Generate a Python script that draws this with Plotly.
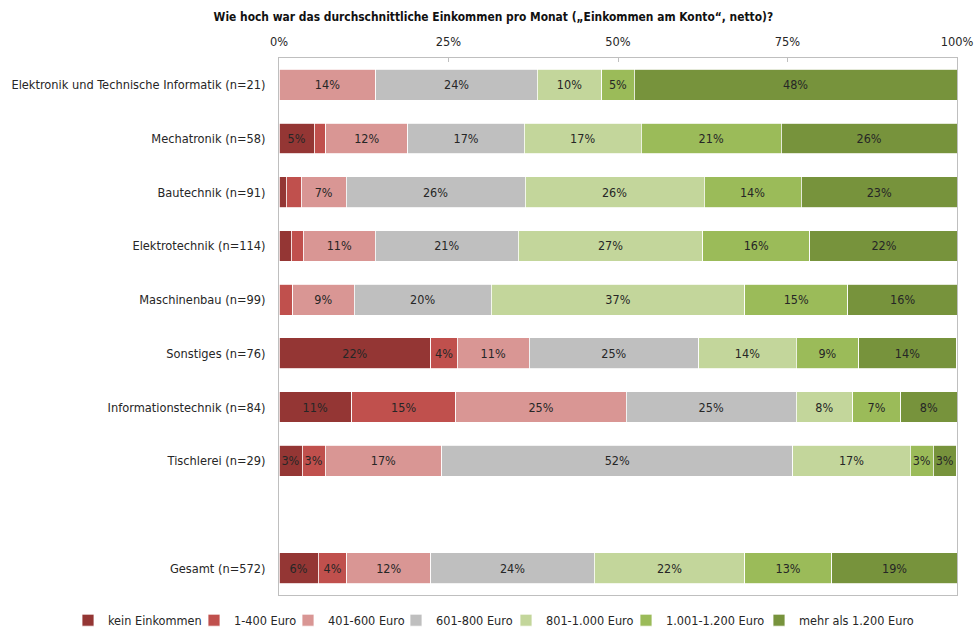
import plotly.graph_objects as go

# Study programmes (rows, top to bottom); the total row is set apart by a blank slot
categories = [
    "Elektronik und Technische Informatik (n=21)",
    "Mechatronik (n=58)",
    "Bautechnik (n=91)",
    "Elektrotechnik (n=114)",
    "Maschinenbau (n=99)",
    "Sonstiges (n=76)",
    "Informationstechnik (n=84)",
    "Tischlerei (n=29)",
    "Gesamt (n=572)",
]

# Income bands
bands = [
    "kein Einkommen",
    "1-400 Euro",
    "401-600 Euro",
    "601-800 Euro",
    "801-1.000 Euro",
    "1.001-1.200 Euro",
    "mehr als 1.200 Euro",
]

# Share of respondents per band (percent), same row order as categories
kein_einkommen = [0.0, 5.2, 1.1, 1.8, 0.0, 22.4, 10.7, 3.4, 5.8]
euro_1_400 = [0.0, 1.7, 2.2, 1.8, 2.0, 3.9, 15.4, 3.4, 4.2]
euro_401_600 = [14.3, 12.1, 6.6, 10.6, 9.1, 10.6, 25.1, 17.2, 12.4]
euro_601_800 = [23.8, 17.2, 26.4, 21.1, 20.2, 25.0, 25.1, 51.8, 24.1]
euro_801_1000 = [9.5, 17.2, 26.4, 27.2, 37.4, 14.4, 8.3, 17.3, 22.2]
euro_1001_1200 = [4.8, 20.7, 14.3, 15.8, 15.2, 9.2, 7.1, 3.4, 12.8]
mehr_1200 = [47.6, 25.9, 23.1, 21.9, 16.2, 14.4, 8.3, 3.4, 18.6]

# Axis ticks
tick_values = [0, 25, 50, 75, 100]
tick_labels = ["0%", "25%", "50%", "75%", "100%"]

series = [kein_einkommen, euro_1_400, euro_401_600, euro_601_800,
          euro_801_1000, euro_1001_1200, mehr_1200]
colors = ["#943634", "#C0504D", "#D99694", "#BFBFBF",
          "#C3D69B", "#9BBB59", "#77933C"]

# Left edge (px) of each legend entry along the bottom row
legend_left_px = [68, 194, 288, 396, 506, 626, 759]

# Row positions: programmes 0..7, one empty slot, then the total
positions = list(range(len(categories) - 1)) + [len(categories)]

FONT = "DejaVu Sans Condensed, DejaVu Sans, sans-serif"
ML, MR, MT, MB = 279, 20, 58, 34
W, H = 977, 629
plot_w = W - ML - MR
plot_h = H - MT - MB

fig = go.Figure()
legends = {}
for i, (name, vals, col) in enumerate(zip(bands, series, colors)):
    labels = [f"{v:.0f}%" if v >= 2.5 else "" for v in vals]
    legend_id = "legend" if i == 0 else f"legend{i + 1}"
    fig.add_trace(go.Bar(
        y=positions,
        x=vals,
        name=name,
        orientation="h",
        marker=dict(color=col, line=dict(color="white", width=0.8)),
        text=labels,
        textposition="inside",
        insidetextanchor="middle",
        textangle=0,
        textfont=dict(family=FONT, size=12.5, color="#262626"),
        width=0.575,
        hoverinfo="x+name",
        legend=legend_id,
    ))
    # one single-entry legend per band, laid out in a row under the plot
    legends[legend_id] = dict(
        orientation="h",
        x=(legend_left_px[i] - ML) / plot_w, xref="paper", xanchor="left",
        y=-10.5 / plot_h, yref="paper", yanchor="top",
        font=dict(family=FONT, size=12.6, color="#262626"),
        itemwidth=30,
        bgcolor="rgba(0,0,0,0)",
    )

fig.update_layout(
    barmode="stack",
    width=W,
    height=H,
    paper_bgcolor="white",
    plot_bgcolor="white",
    margin=dict(l=ML, r=MR, t=MT, b=MB, autoexpand=False),
    font=dict(family=FONT, size=12.7, color="#262626"),
    uniformtext=dict(minsize=12.5, mode="show"),
    title=dict(
        text="<b>Wie hoch war das durchschnittliche Einkommen pro Monat (\u201eEinkommen am Konto\u201c, netto)?</b>",
        x=0.505, xref="container", xanchor="center",
        y=0.973, yref="container", yanchor="middle",
        font=dict(family=FONT, size=11.9, color="#111111"),
    ),
    showlegend=True,
    **legends,
)

fig.update_xaxes(
    side="top",
    range=[0, 100],
    tickvals=tick_values,
    ticktext=tick_labels,
    ticks="inside",
    ticklen=4,
    tickcolor="#BFBFBF",
    ticklabelstandoff=6,
    showline=True,
    linecolor="#BFBFBF",
    linewidth=1,
    mirror=True,
    showgrid=False,
    zeroline=False,
    fixedrange=True,
)

fig.update_yaxes(
    range=[len(categories) + 0.5, -0.5],
    tickvals=positions,
    ticktext=categories,
    ticks="outside",
    ticklen=10,
    tickcolor="rgba(0,0,0,0)",
    showline=True,
    linecolor="#BFBFBF",
    linewidth=1,
    mirror=True,
    showgrid=False,
    zeroline=False,
    fixedrange=True,
)

fig.write_html("out.html")
